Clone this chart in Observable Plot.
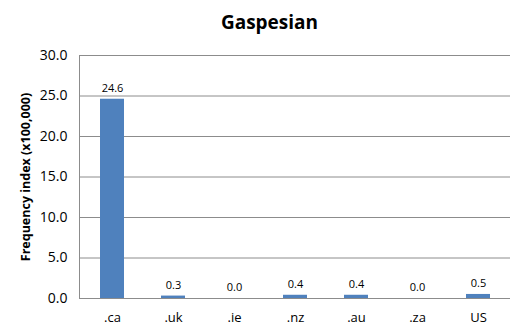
<!DOCTYPE html>
<html>
<head>
<meta charset="utf-8">
<script src="https://cdn.jsdelivr.net/npm/d3@7"></script>
<script src="https://cdn.jsdelivr.net/npm/@observablehq/plot@0.6"></script>
<style>
  body { margin: 0; background: #fff; font-family: "Open Sans", "DejaVu Sans", sans-serif; }
  #title { height: 40px; width: 521px; text-align: center; font-weight: bold; font-size: 19px; line-height: 44px; color: #000; padding-left: 18px; box-sizing: border-box; }
</style>
</head>
<body>
<div id="title">Gaspesian</div>
<div id="chart"></div>
<script>
const categories = [".ca", ".uk", ".ie", ".nz", ".au", ".za", "US"];
const values = [24.6, 0.3, 0.0, 0.4, 0.4, 0.0, 0.5];
const yTicks = [0, 5, 10, 15, 20, 25, 30];
const yLabel = "Frequency index (x100,000)";

const data = categories.map((c, i) => ({cat: c, value: values[i]}));

const chart = Plot.plot({
  width: 521,
  height: 295,
  marginTop: 15,
  marginBottom: 37,
  marginLeft: 79,
  marginRight: 11,
  style: {fontFamily: "'Open Sans', 'DejaVu Sans', sans-serif", fontSize: "13px", color: "#000", background: "#fff"},
  x: {domain: categories, paddingInner: 0.61, paddingOuter: 0.305, label: null},
  y: {domain: [0, 30], ticks: yTicks, label: null},
  marks: [
    Plot.gridY(yTicks, {stroke: "#8c8c8c", strokeOpacity: 1}),
    Plot.frame({anchor: "left", stroke: "#8c8c8c"}),
    Plot.barY(data, {x: "cat", y: "value", fill: "#4F81BD"}),
    Plot.ruleY([0], {stroke: "#8c8c8c"}),
    Plot.text(data, {x: "cat", y: "value", text: d => d.value.toFixed(1), dy: -11, fontSize: 11, fill: "#000"}),
    Plot.axisX({tickSize: 0, tickPadding: 14, fontSize: 13, label: null}),
    Plot.axisY(yTicks, {tickSize: 0, tickPadding: 12, tickFormat: d => d.toFixed(1), fontSize: 14, label: null}),
    Plot.text([yLabel], {frameAnchor: "left", textAnchor: "middle", dx: -54, rotate: -90, fontWeight: "bold", fontSize: 12.5, fill: "#000"})
  ]
});
document.getElementById("chart").appendChild(chart);
</script>
</body>
</html>
